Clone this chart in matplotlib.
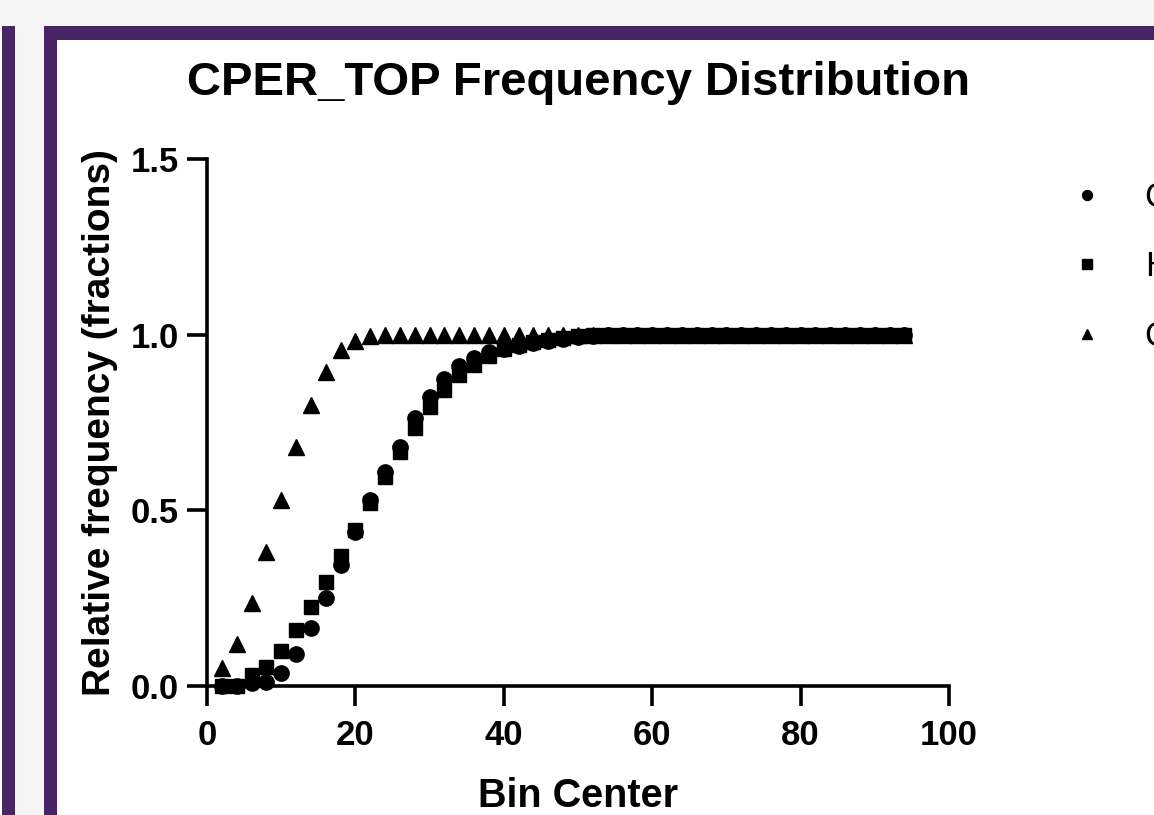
import matplotlib
matplotlib.use("Agg")
import matplotlib.pyplot as plt
from matplotlib.patches import Rectangle

# bin centers
bin_center = [2, 4, 6, 8, 10, 12, 14, 16, 18, 20, 22, 24, 26, 28, 30, 32,
              34, 36, 38, 40, 42, 44, 46, 48, 50, 52, 54, 56, 58, 60, 62, 64,
              66, 68, 70, 72, 74, 76, 78, 80, 82, 84, 86, 88, 90, 92, 94]

series_names = ["Control", "HFD", "CR"]

# cumulative relative frequency per series
circle_vals = [0.0, 0.0, 0.008, 0.012, 0.037, 0.09, 0.165, 0.25, 0.345, 0.437,
               0.53, 0.61, 0.68, 0.763, 0.823, 0.875, 0.91, 0.935, 0.95, 0.96,
               0.968, 0.975, 0.982, 0.988, 0.993, 0.997, 1.0, 1.0, 1.0, 1.0,
               1.0, 1.0, 1.0, 1.0, 1.0, 1.0, 1.0, 1.0, 1.0, 1.0, 1.0, 1.0,
               1.0, 1.0, 1.0, 1.0, 1.0]
square_vals = [0.0, 0.0, 0.03, 0.055, 0.10, 0.16, 0.225, 0.295, 0.37, 0.445,
               0.52, 0.595, 0.667, 0.735, 0.795, 0.843, 0.886, 0.915, 0.94,
               0.958, 0.97, 0.978, 0.985, 0.99, 0.995, 0.998, 1.0, 1.0, 1.0,
               1.0, 1.0, 1.0, 1.0, 1.0, 1.0, 1.0, 1.0, 1.0, 1.0, 1.0, 1.0,
               1.0, 1.0, 1.0, 1.0, 1.0, 1.0]
triangle_vals = [0.05, 0.12, 0.236, 0.38, 0.53, 0.68, 0.80, 0.895, 0.955,
                 0.983, 0.995, 1.0, 1.0, 1.0, 1.0, 1.0, 1.0, 1.0, 1.0, 1.0,
                 1.0, 1.0, 1.0, 1.0, 1.0, 1.0, 1.0, 1.0, 1.0, 1.0, 1.0, 1.0,
                 1.0, 1.0, 1.0, 1.0, 1.0, 1.0, 1.0, 1.0, 1.0, 1.0, 1.0, 1.0,
                 1.0, 1.0, 1.0]

x_ticks = [0, 20, 40, 60, 80, 100]
y_ticks = [0.0, 0.5, 1.0, 1.5]

plt.rcParams['font.family'] = ['Liberation Sans', 'DejaVu Sans']

W, H = 1154, 815
fig = plt.figure(figsize=(W / 100, H / 100), dpi=100, facecolor='#f5f5f5')

purple = '#4a2566'
# screenshot frame (pixel coords -> figure fraction)
def px_rect(x0, y0, x1, y1, color, z=0):
    fig.add_artist(Rectangle((x0 / W, 1 - y1 / H), (x1 - x0) / W, (y1 - y0) / H,
                             transform=fig.transFigure, facecolor=color,
                             edgecolor='none', zorder=z))

px_rect(0, 26, 2, 815, 'white')
px_rect(2, 26, 15, 815, purple)
px_rect(44, 26, 1160, 815, purple)
px_rect(57, 40, 1160, 815, 'white')

ax = fig.add_axes([207 / W, 1 - 686 / H, (949 - 207) / W, (686 - 159) / H])
ax.set_facecolor('none')

ax.plot(bin_center, triangle_vals, linestyle='none', marker='^', color='black',
        markersize=11.5, label=series_names[2], clip_on=False, zorder=3)
ax.plot(bin_center, circle_vals, linestyle='none', marker='o', color='black',
        markersize=11, label=series_names[0], clip_on=False, zorder=4)
ax.plot(bin_center, square_vals, linestyle='none', marker='s', color='black',
        markersize=10.5, label=series_names[1], clip_on=False, zorder=5)

ax.set_xlim(0, 100)
ax.set_ylim(0, 1.5)
ax.set_xticks(x_ticks)
ax.set_yticks(y_ticks)
ax.set_yticklabels([f'{v:.1f}' for v in y_ticks])

for s in ['top', 'right']:
    ax.spines[s].set_visible(False)
for s in ['left', 'bottom']:
    ax.spines[s].set_linewidth(2.6)
ax.tick_params(direction='out', length=14.5, width=2.6, labelsize=25)
ax.tick_params(axis='x', pad=9)
ax.tick_params(axis='y', pad=6)
for lab in ax.get_xticklabels() + ax.get_yticklabels():
    lab.set_fontweight('bold')

ax.set_title('CPER_TOP Frequency Distribution', fontsize=34, fontweight='bold', pad=46)
ax.set_xlabel('Bin Center', fontsize=28.5, fontweight='bold', labelpad=18)
ax.set_ylabel('Relative frequency (fractions)', fontsize=28, fontweight='bold', labelpad=9)

handles, labels = ax.get_legend_handles_labels()
order = [1, 2, 0]
leg = fig.legend([handles[i] for i in order], [labels[i] for i in order],
                 loc='upper left', bbox_to_anchor=(1052 / W, 1 - 181 / H),
                 frameon=False, fontsize=25, borderpad=0, borderaxespad=0,
                 handlelength=2.0, handletextpad=0.67, labelspacing=1.05,
                 markerscale=0.65, numpoints=1)

fig.savefig('out.png', dpi=100, facecolor=fig.get_facecolor())
